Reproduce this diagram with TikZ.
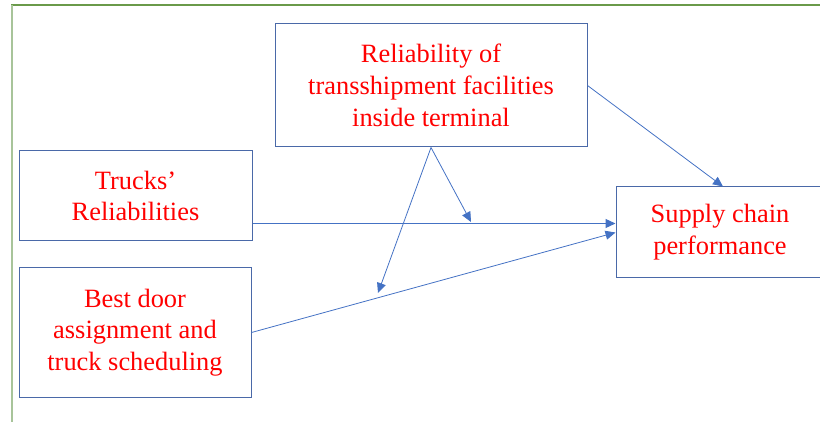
\documentclass[tikz,border=0pt]{standalone}
\usepackage{fontspec}
\setmainfont{Liberation Serif}
\usepackage{xcolor}
\usepackage{tikz}
\usetikzlibrary{arrows.meta,               % pointes de fleches
           calc}                      % Calculs de coordonnées
\definecolor{boxblue}{HTML}{4A69A8}
\definecolor{arrblue}{HTML}{4472C4}
\definecolor{framegreen}{HTML}{6A9A4A}
\definecolor{sidegreen}{HTML}{A8C49A}
\tikzset{facteur/.style={draw=boxblue,line width=1pt,inner sep=0pt,align=center,text=red,
  font=\fontsize{26.4}{31.7}\selectfont},
  fleche/.style={draw=arrblue,line width=0.8pt,-{Triangle[length=10pt,width=9pt]}}}

\begin{document}
\begin{tikzpicture}[x=1pt,y=-1pt]
\useasboundingbox(0,0)rectangle(820,422);
\draw[framegreen,line width=1.2pt](11,5)--(822,5);
\draw[sidegreen,line width=2pt](11.5,5)--(11.5,424);
\node[facteur,minimum width=312pt,minimum height=123pt](rel)at(431,85.5){Reliability of\\transshipment facilities\\inside terminal};
\node[facteur,minimum width=233pt,minimum height=90pt](trucks)at(135.5,196){Trucks’\\Reliabilities};
\node[facteur,minimum width=232pt,minimum height=129pt](door)at(135,332.5){Best door\\assignment and\\truck scheduling};
\node[facteur,minimum width=208pt,minimum height=91pt](supply)at(720,232.5){Supply chain\\performance};
\coordinate(tA)at([yshift=18pt]trucks.south east);
\coordinate(m1)at(471,222);\coordinate(m2)at(378,293);
\draw[fleche,line width=1.1pt](tA)--(tA-|supply.west);
\draw[fleche](door.east)--(supply.west);
\draw[fleche](rel.east)--([xshift=3pt]supply.north);
\draw[fleche](rel.south)--(m1);
\draw[fleche](rel.south)--(m2);
\end{tikzpicture}
\end{document}
